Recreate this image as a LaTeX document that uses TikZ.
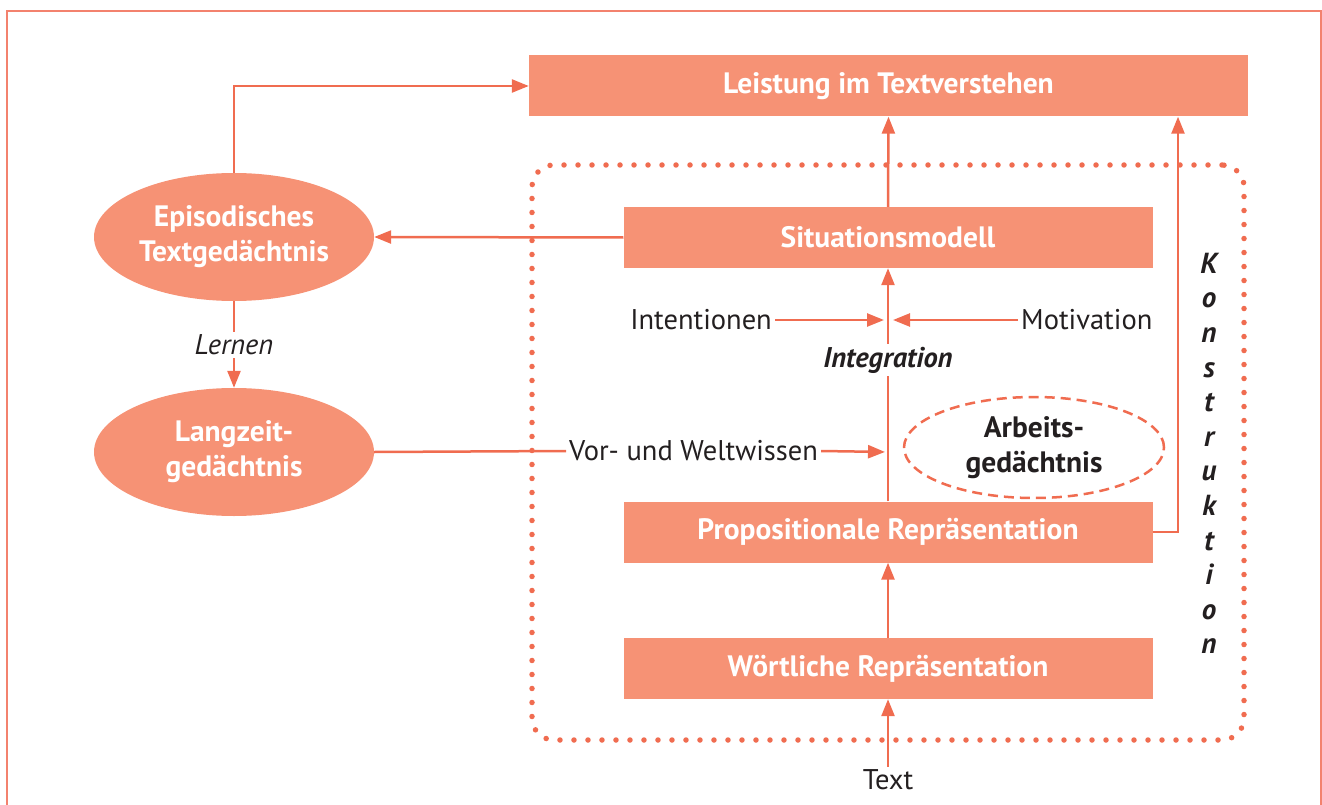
\documentclass[tikz,border=0pt]{standalone}
\usepackage{fontspec}
\setmainfont{PT Sans}
\usetikzlibrary{arrows.meta,shapes.geometric}
\definecolor{boxfill}{RGB}{246,146,117}
\definecolor{linec}{RGB}{240,108,80}
\definecolor{framec}{RGB}{243,130,110}
\definecolor{txt}{RGB}{35,31,32}
\begin{document}
\begin{tikzpicture}[x=1pt,y=-1pt,
  box/.style={fill=boxfill, minimum width=529pt, minimum height=61pt, inner sep=0pt, text=white, font=\fontsize{29.5}{35}\selectfont\bfseries},
  ell/.style={ellipse, fill=boxfill, minimum width=280pt, minimum height=128pt, inner sep=0pt, text=white, align=center, font=\fontsize{29.5}{35}\selectfont\bfseries},
  conn/.style={draw=linec, line width=2.5pt},
  arr/.style={conn, -{Triangle[length=17pt,width=13pt]}},
  lab/.style={text=txt, font=\fontsize{28.5}{34}\selectfont, inner sep=3pt},
  dotbox/.style={draw=linec, line width=5.5pt, line cap=round, dash pattern=on 0pt off 14pt, rounded corners=22pt, minimum width=712pt, minimum height=575pt, inner sep=0pt},
  dashell/.style={ellipse, draw=linec, line width=2.5pt, dash pattern=on 10pt off 6pt, minimum width=260pt, minimum height=101pt, inner sep=0pt, text=txt, align=center, font=\fontsize{29.5}{35}\selectfont\bfseries}
]
\useasboundingbox (0,0) rectangle (1322,805);
% frame
\draw[framec, line width=2pt] (7,808) -- (7,11) -- (1321,11) -- (1321,808);

% dotted construction area
\node[dotbox] (kon) at (888,452.5) {};

% boxes
\node[box, minimum width=719pt] (leist) at (888.5,86) {Leistung im Textverstehen};
\node[box] (sit) at (888,237.5) {Situationsmodell};
\node[box] (prop) at (888,532) {Propositionale Repräsentation};
\node[box] (wort) at (888,668.5) {Wörtliche Repräsentation};

% ellipses
\node[ell] (epi) at (234,237) {Episodisches\\Textgedächtnis};
\node[ell] (lang) at (234,452) {Langzeit-\\gedächtnis};
\node[dashell] (arb) at (1034,447.5) {Arbeits-\\gedächtnis};

% labels
\node[lab] (text) at (888,780) {Text};
\node[lab, anchor=east] (int) at (775,320) {Intentionen};
\node[lab, anchor=west] (mot) at (1018,320) {Motivation};
\node[lab, font=\fontsize{28.5}{34}\selectfont\bfseries\itshape] (integ) at (888,360) {Integration};
\node[lab, anchor=west] (vor) at (566,451) {Vor- und Weltwissen};
\node[lab, font=\fontsize{28.5}{34}\selectfont\itshape] (lern) at (234,345) {Lernen};
\node[text=txt, inner sep=0pt, align=center, font=\fontsize{29}{34.6}\selectfont\bfseries\itshape] (konlab) at (1209,453.5) {K\\o\\n\\s\\t\\r\\u\\k\\t\\i\\o\\n};

% coordinates
\coordinate (j1) at (888,320);
\coordinate (j2) at (888,452);
\coordinate (kx) at (1178,0);

% connectors
\draw[arr] (text.north) -- (wort.south);
\draw[arr] (wort.north) -- (prop.south);
\draw[conn] (prop.north) -- (integ.south);
\draw[arr] (integ.north) -- (sit.south);
\draw[arr] (sit.north) -- (leist.south);
\draw[arr, shorten >=4pt] (int.east) -- (j1);
\draw[arr, shorten >=5pt] (mot.west) -- (j1);
\draw[arr, shorten >=3pt] (vor.east) -- (j2);
\draw[conn] (lang.east) -- (vor.west);
\draw[arr] (epi.north) |- (leist.west);
\draw[arr] (sit.west) -- (epi.east);
\draw[conn] (epi.south) -- (lern.north);
\draw[arr] (lern.south) -- (lang.north);
\draw[arr] (prop.east) -| (kx |- leist.south);
\end{tikzpicture}
\end{document}
